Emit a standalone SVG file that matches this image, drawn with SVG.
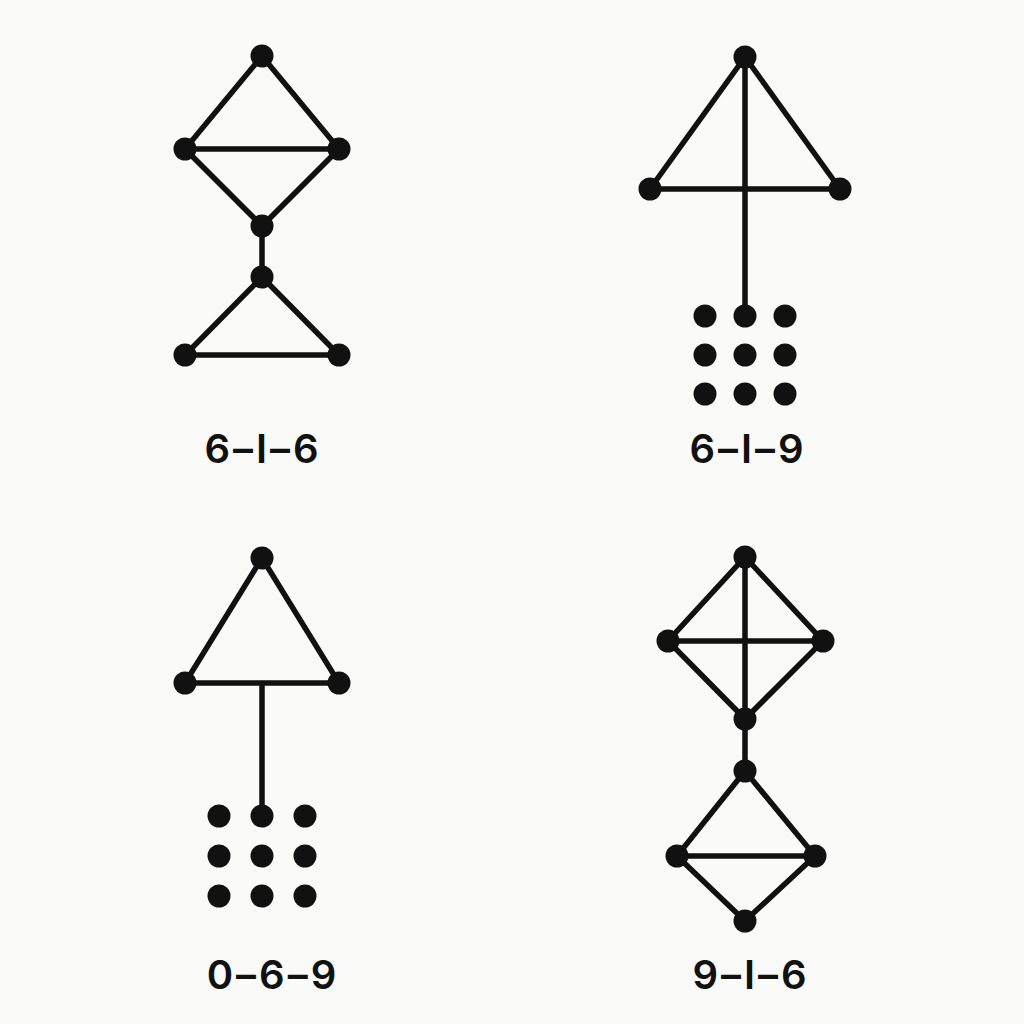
<svg xmlns="http://www.w3.org/2000/svg" width="1024" height="1024" viewBox="0 0 1024 1024">
<style>
.e{stroke:#111;stroke-width:5.5;fill:none;stroke-linecap:round}
.n{fill:#111}
.t{font-family:Inter,"Liberation Sans",sans-serif;font-weight:600;font-size:40px;letter-spacing:3px;fill:#111;text-anchor:middle}
</style>
<rect width="1024" height="1024" fill="#fafaf8"/>
<g id="connectors">
<path class="e" d="M262,56 L185,149 L262,226 L339,149 Z M185,149 L339,149 M262,226 L262,277 M262,277 L185,355 L339,355 Z"/>
<path class="e" d="M745,57 L650,189 L840,189 Z M745,57 L745,316"/>
<path class="e" d="M262,558 L185,683 L339,683 Z M262,683 L262,816"/>
<path class="e" d="M745,557 L668,641 L745,719 L823,641 Z M668,641 L823,641 M745,557 L745,719 L745,771 M745,771 L677,856 L745,921 L815,856 Z M677,856 L815,856"/>
</g>
<g id="panel-6-I-6">
<circle class="n" cx="262" cy="56" r="11.5"/>
<circle class="n" cx="185" cy="149" r="11.5"/>
<circle class="n" cx="339" cy="149" r="11.5"/>
<circle class="n" cx="262" cy="226" r="11.5"/>
<circle class="n" cx="262" cy="277" r="11.5"/>
<circle class="n" cx="185" cy="355" r="11.5"/>
<circle class="n" cx="339" cy="355" r="11.5"/>
<text class="t" x="263" y="463">6–I–6</text>
</g>
<g id="panel-6-I-9">
<circle class="n" cx="745" cy="57" r="11.5"/>
<circle class="n" cx="650" cy="189" r="11.5"/>
<circle class="n" cx="840" cy="189" r="11.5"/>
<circle class="n" cx="705" cy="316" r="11.5"/>
<circle class="n" cx="745" cy="316" r="11.5"/>
<circle class="n" cx="785" cy="316" r="11.5"/>
<circle class="n" cx="705" cy="355" r="11.5"/>
<circle class="n" cx="745" cy="355" r="11.5"/>
<circle class="n" cx="785" cy="355" r="11.5"/>
<circle class="n" cx="705" cy="394" r="11.5"/>
<circle class="n" cx="745" cy="394" r="11.5"/>
<circle class="n" cx="785" cy="394" r="11.5"/>
<text class="t" x="748" y="463">6–I–9</text>
</g>
<g id="panel-0-6-9">
<circle class="n" cx="262" cy="558" r="11.5"/>
<circle class="n" cx="185" cy="683" r="11.5"/>
<circle class="n" cx="339" cy="683" r="11.5"/>
<circle class="n" cx="219" cy="816" r="11.5"/>
<circle class="n" cx="262" cy="816" r="11.5"/>
<circle class="n" cx="305" cy="816" r="11.5"/>
<circle class="n" cx="219" cy="856" r="11.5"/>
<circle class="n" cx="262" cy="856" r="11.5"/>
<circle class="n" cx="305" cy="856" r="11.5"/>
<circle class="n" cx="219" cy="896" r="11.5"/>
<circle class="n" cx="262" cy="896" r="11.5"/>
<circle class="n" cx="305" cy="896" r="11.5"/>
<text class="t" x="273" y="989">0–6–9</text>
</g>
<g id="panel-9-I-6">
<circle class="n" cx="745" cy="557" r="11.5"/>
<circle class="n" cx="668" cy="641" r="11.5"/>
<circle class="n" cx="823" cy="641" r="11.5"/>
<circle class="n" cx="745" cy="719" r="11.5"/>
<circle class="n" cx="745" cy="771" r="11.5"/>
<circle class="n" cx="677" cy="856" r="11.5"/>
<circle class="n" cx="815" cy="856" r="11.5"/>
<circle class="n" cx="745" cy="921" r="11.5"/>
<text class="t" x="751" y="989">9–I–6</text>
</g>
</svg>
